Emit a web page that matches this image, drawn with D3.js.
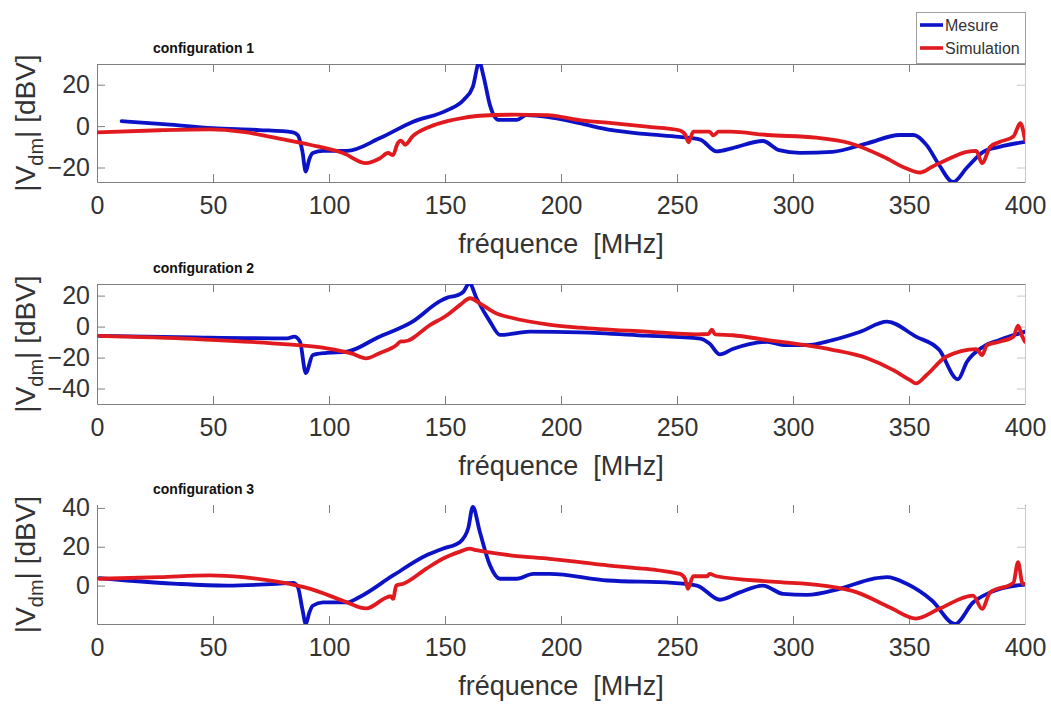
<!DOCTYPE html>
<html>
<head>
<meta charset="utf-8">
<script src="https://cdn.jsdelivr.net/npm/d3@7"></script>
<style>
  html, body { margin: 0; padding: 0; background: #fff; }
  svg { display: block; }
  text { font-family: "Liberation Sans", Arial, Helvetica, sans-serif; }
</style>
</head>
<body>
<svg id="chart" width="1051" height="704"></svg>
<script>
// ---------- DATA ----------
const freqTicks = [0, 50, 100, 150, 200, 250, 300, 350, 400];
const freqDomain = [0, 400];
const seriesNames = ["Mesure", "Simulation"];
const panelTitles = ["configuration 1", "configuration 2", "configuration 3"];
const yDomains = [[-27, 30], [-50, 27.5], [-19.8, 41.5]];
const yTicks = [[-20, 0, 20], [-40, -20, 0, 20], [0, 20, 40]];

// [frequency MHz, |Vdm| dBV]
const config1Mesure = [[10.6,2.4],[30,0.8],[50,-1],[70,-1.9],[84.5,-3],[86.6,-4.4],[88.5,-12],[90,-22],[91.5,-16],[93,-13],[97.4,-12],[107.7,-12],[122,-5.8],[136,2],[151,7.7],[158,12.6],[162,19],[164.8,31],[166.5,24.6],[169.4,10],[173,3],[181,3],[185,5.3],[194,4.5],[208,1.4],[222,-2],[237,-3.9],[251,-5.2],[260,-6.5],[267,-12.2],[274,-10.6],[287,-7.2],[294,-11.6],[303,-12.9],[317,-12.4],[332,-8.3],[346,-4.3],[352,-4.3],[357.6,-9.2],[363,-18.8],[369,-27],[375,-20],[382,-12.4],[389,-10],[400,-7.6]];
const config1Simulation = [[0,-3],[27,-2],[48.7,-1.6],[63,-2.8],[77.6,-5.8],[91.8,-9],[106,-13],[116,-17.9],[122,-15.5],[125.5,-13],[127.6,-14],[129.5,-8.5],[131,-7],[132.8,-9],[136,-5],[143.5,-0.3],[151,2.4],[158,4],[165,5],[179.5,5.5],[194,5.3],[208,2.9],[222,1.4],[237,-0.3],[251,-2],[253.5,-4],[255,-7.8],[257,-2.7],[264,-2.7],[265.7,-4.5],[268,-2.7],[273,-2.7],[289,-4.3],[310,-5.6],[324.6,-8.3],[339,-14.8],[349,-20.5],[354.7,-22.4],[360,-19.6],[367.7,-15.5],[375,-12.4],[379,-12],[381.5,-17.9],[385,-10],[389,-7.7],[395,-5],[398,1.4],[400,-6.8]];

const config2Mesure = [[1,-6],[41.5,-7],[82,-7.6],[85,-6.5],[87.5,-9.7],[90,-30],[93,-18.4],[99,-17],[107.7,-16.2],[121,-7],[136,3.2],[148,16.6],[151,18.7],[155,20],[158,22.6],[160.5,28],[163.6,18.3],[169.4,3.2],[173.7,-5.4],[186.6,-3.3],[208,-3.7],[237,-5.9],[260,-7.8],[264,-11],[268.5,-18],[274,-14.5],[289,-9.8],[296,-12],[306,-12],[317,-8.7],[329,-3.3],[340.5,3.2],[353,-6.5],[363,-15],[371,-34],[375,-22.7],[382,-13],[389,-8.7],[400,-3.3]];
const config2Simulation = [[1,-6],[41.5,-8],[82,-11.5],[99,-14],[110,-17.5],[116,-20.5],[122,-17],[129,-12],[131,-9.5],[132.5,-9.5],[143.5,1],[151,7.5],[156.5,14],[160.8,18.3],[165,15],[172,8.6],[179.5,5.4],[194,1.5],[208,-0.7],[237,-3.3],[258.5,-5],[263.5,-4.8],[265,-2],[266.4,-5],[274,-5.6],[289,-8.7],[303,-11.5],[317,-15],[332,-20.5],[343,-28],[350.5,-34.6],[353,-36.7],[357.6,-31.3],[366,-19.5],[379,-14.5],[381.5,-18.4],[383.6,-12],[389,-9.8],[395,-6.5],[397,0.6],[398.7,-6],[400,-9.8]];

const config3Mesure = [[1,3.8],[13,2.6],[34.5,0.9],[56,0],[77.6,0.9],[84.5,1.4],[86.6,-0.9],[88.5,-12],[90,-19.8],[91.5,-14],[93,-10.4],[97.4,-8.7],[107.7,-8.7],[113,-6],[127.6,5.2],[142,15.6],[149,19],[156.5,22.5],[160,29.5],[162,40.5],[165,27.7],[169.4,10.4],[173.7,3.5],[181,3.5],[188,6],[195,6],[220,2.6],[248,1.4],[258.6,0],[268.5,-7.3],[277,-3.5],[287,0],[295.7,-4.3],[306,-4.8],[320,-1.7],[334.5,3.5],[340.5,4.3],[349,0.9],[360,-7.8],[369.8,-19.8],[377.6,-8.7],[385,-3.5],[399,0.4],[400,0.5]];
const config3Simulation = [[1,3.5],[27,4.3],[48.7,5.2],[63,4.3],[77.6,2],[92,-1.7],[106,-7.8],[116,-11.8],[125,-6],[126.5,-5.5],[127.6,-6.9],[129,0],[132,0.9],[142,8.7],[149,13.8],[156.5,17.5],[160.5,19],[163.6,18.2],[178,15.6],[195,13.8],[220,10.4],[251.3,6],[253.5,3.5],[254.7,-1.7],[257,4.8],[263,4.8],[264,6],[267,4.8],[291,2],[313,0],[327.6,-3.5],[341.8,-11.3],[353,-17],[363,-12],[377.6,-5.2],[381.5,-12],[385,-3.5],[395,1.4],[397,12],[399,0.9],[400,0.9]];

const panelSeries = [
  [config1Mesure, config1Simulation],
  [config2Mesure, config2Simulation],
  [config3Mesure, config3Simulation]
];

// ---------- LAYOUT ----------
const colors = ["#0c12c6", "#e01a1e"];
const left = 97, right = 1025;
const panelBoxes = [{top: 64, bottom: 182}, {top: 284, bottom: 404}, {top: 505, bottom: 624}];
const axisColor = "#808080";
const textColor = "#333";

const svg = d3.select("#chart");
const x = d3.scaleLinear().domain(freqDomain).range([left, right]);

panelSeries.forEach((series, i) => {
  const box = panelBoxes[i];
  const y = d3.scaleLinear().domain(yDomains[i]).range([box.bottom, box.top]);
  const g = svg.append("g");

  const clipId = "clip" + i;
  svg.append("clipPath").attr("id", clipId)
    .append("rect").attr("x", left).attr("y", box.top)
    .attr("width", right - left).attr("height", box.bottom - box.top);

  // bottom axis with labels
  const bottomAxis = d3.axisBottom(x).tickValues(freqTicks).tickSizeInner(-8).tickSizeOuter(0).tickPadding(14);
  const ga = g.append("g").attr("transform", `translate(0,${box.bottom})`).call(bottomAxis);
  ga.selectAll("text").attr("font-size", 25).attr("fill", textColor).attr("dy", "0.71em");
  ga.select(".domain").attr("stroke", axisColor);
  ga.selectAll(".tick line").attr("stroke", axisColor);

  // top ticks
  const gt = g.append("g").attr("transform", `translate(0,${box.top})`)
    .call(d3.axisTop(x).tickValues(freqTicks).tickSizeInner(-8).tickSizeOuter(0).tickFormat(""));
  gt.select(".domain").attr("stroke", i === 2 ? "none" : axisColor);
  gt.selectAll(".tick line").attr("stroke", axisColor);

  // left axis
  const gl = g.append("g").attr("transform", `translate(${left},0)`)
    .call(d3.axisLeft(y).tickValues(yTicks[i]).tickSizeInner(-8).tickSizeOuter(0).tickPadding(7));
  gl.selectAll("text").attr("font-size", 25).attr("fill", textColor);
  gl.select(".domain").attr("stroke", axisColor);
  gl.selectAll(".tick line").attr("stroke", axisColor);

  // right ticks
  const gr = g.append("g").attr("transform", `translate(${right},0)`)
    .call(d3.axisRight(y).tickValues(yTicks[i]).tickSizeInner(-8).tickSizeOuter(0).tickFormat(""));
  gr.select(".domain").attr("stroke", "#c8c8c8");
  gr.selectAll(".tick line").attr("stroke", "#c8c8c8");

  // lines
  const line = d3.line().x(d => x(d[0])).y(d => y(d[1])).curve(d3.curveMonotoneX);
  series.forEach((s, k) => {
    g.append("path").datum(s)
      .attr("clip-path", `url(#${clipId})`)
      .attr("fill", "none").attr("stroke", colors[k])
      .attr("stroke-width", 3.8).attr("stroke-linejoin", "round").attr("stroke-linecap", "round")
      .attr("d", line);
  });

  // title
  g.append("text").attr("x", 153).attr("y", box.top - 11)
    .attr("font-size", 14).attr("font-weight", "bold").attr("fill", "#111")
    .text(panelTitles[i]);

  // x label
  g.append("text").attr("x", (left + right) / 2).attr("y", box.bottom + 71)
    .attr("text-anchor", "middle").attr("font-size", 27).attr("fill", textColor)
    .style("white-space", "pre")
    .text("fréquence  [MHz]");

  // y label
  const cy = (box.top + box.bottom) / 2;
  const yl = g.append("text").attr("transform", `translate(35,${cy}) rotate(-90)`)
    .attr("text-anchor", "middle").attr("font-size", 28).attr("fill", textColor)
    .style("white-space", "pre");
  yl.append("tspan").text("|V");
  yl.append("tspan").attr("font-size", 20).attr("dy", 8).text("dm");
  yl.append("tspan").attr("dy", -8).text("| [dBV]");
});

// legend
const leg = svg.append("g");
leg.append("rect").attr("x", 916.5).attr("y", 12.5).attr("width", 109).attr("height", 51)
  .attr("fill", "#fff").attr("stroke", "#a0a0a0");
seriesNames.forEach((name, k) => {
  const ly = 25 + k * 23;
  leg.append("line").attr("x1", 920).attr("x2", 943).attr("y1", ly).attr("y2", ly)
    .attr("stroke", colors[k]).attr("stroke-width", 3.6);
  leg.append("text").attr("x", 945).attr("y", ly + 6).attr("font-size", 16).attr("fill", textColor)
    .text(name);
});
</script>
</body>
</html>
